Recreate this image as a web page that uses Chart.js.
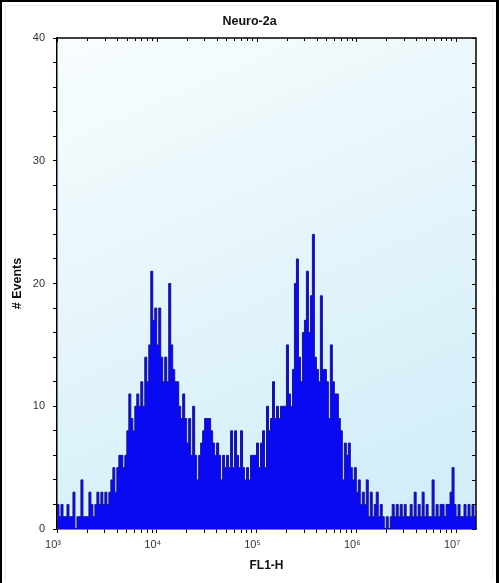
<!DOCTYPE html>
<html>
<head>
<meta charset="utf-8">
<script src="https://cdn.jsdelivr.net/npm/chart.js@4.4.1/dist/chart.umd.min.js"></script>
<style>
  html, body { margin: 0; padding: 0; background: #fff; }
  #wrap { width: 499px; height: 583px; position: relative; }
</style>
</head>
<body>
<div id="wrap"><canvas id="chart" width="499" height="583"></canvas></div>
<script>
  // labels
  const titleText = 'Neuro-2a';
  const xTitle = 'FL1-H';
  const yTitle = '# Events';

  // x axis: log10(FL1-H), one bin every 0.02 decade
  const logMin = 3, logMax = 7.2, binWidth = 0.02;
  const decades = [3, 4, 5, 6, 7];
  const decadeLabels = ['10³', '10⁴', '10⁵', '10⁶', '10⁷'];
  const yMax = 40, yStep = 2, yLabelEvery = 10;

  // events per bin
  const counts = [
    2,1,2,1,1,2,1,1,3,0,
    1,1,4,1,1,1,3,2,1,2,
    3,2,3,2,3,2,3,4,5,3,
    5,6,6,5,6,8,11,9,8,10,
    11,10,12,10,14,12,15,21,17,18,
    15,18,14,12,14,12,20,15,13,12,
    12,10,9,11,9,7,9,6,10,6,
    4,6,7,8,9,9,9,8,7,6,
    7,6,4,6,5,6,5,8,5,8,
    6,5,8,5,4,5,4,6,6,6,
    7,5,7,8,5,10,8,9,12,9,
    10,9,10,10,10,15,11,10,13,20,
    22,14,12,16,17,21,16,19,24,14,
    13,12,19,13,13,12,9,15,12,11,
    11,9,8,4,7,6,7,5,4,5,
    3,4,2,3,2,4,1,3,1,2,
    3,1,2,1,0,1,0,1,2,1,
    2,1,2,1,2,1,1,2,1,3,
    1,2,1,3,1,2,1,1,4,1,
    2,1,2,2,1,2,2,3,5,2,
    1,2,1,1,2,1,2,1,2,1
  ];

  const FONT = 'Liberation Sans, Arial, Helvetica, sans-serif';

  // bin left edges + closing point at the right edge
  const points = counts.map((c, i) => ({x: logMin + i * binWidth, y: c}));
  points.push({x: logMin + counts.length * binWidth, y: counts[counts.length - 1]});

  // log minor tick positions
  const logTicks = [];
  decades.forEach(d => {
    for (let k = 1; k <= 9; k++) {
      const v = d + Math.log10(k);
      if (v <= logMax + 1e-9) logTicks.push({value: v});
    }
  });

  const isInt = v => Math.abs(v - Math.round(v)) < 1e-6;

  const framePlugin = {
    id: 'frame',
    beforeDraw(chart) {
      const {ctx, width, height, chartArea: a} = chart;
      ctx.save();
      ctx.fillStyle = '#fff';
      ctx.fillRect(0, 0, width, height);
      // plot background
      const g = ctx.createLinearGradient(a.left, a.top, a.left + (a.right - a.left) * 0.5, a.bottom);
      g.addColorStop(0, '#f8fdfe');
      g.addColorStop(0.45, '#e8f6fb');
      g.addColorStop(1, '#d3eef9');
      ctx.fillStyle = g;
      ctx.fillRect(a.left, a.top, a.right - a.left, a.bottom - a.top);
      // outer border of the picture
      ctx.strokeStyle = '#ececec';
      ctx.lineWidth = 1;
      ctx.beginPath();
      ctx.moveTo(5.5, height - 3);
      ctx.lineTo(5.5, 5.5);
      ctx.lineTo(width - 6.5, 5.5);
      ctx.lineTo(width - 6.5, height - 3);
      ctx.stroke();
      ctx.fillStyle = '#000';
      ctx.fillRect(0, 0, width, 2);
      ctx.fillRect(0, 0, 2, height);
      ctx.fillRect(width - 3, 0, 3, height);
      ctx.restore();
    },
    afterDraw(chart) {
      const {ctx, chartArea: a, scales} = chart;
      ctx.save();
      ctx.strokeStyle = '#000';
      ctx.lineWidth = 1.5;
      ctx.beginPath();
      ctx.moveTo(a.left, a.top);
      ctx.lineTo(a.right, a.top);
      ctx.lineTo(a.right, a.bottom);
      ctx.stroke();
      ctx.lineWidth = 1;
      ctx.beginPath();
      scales.x.ticks.forEach(t => {
        const px = Math.round(scales.x.getPixelForValue(t.value)) + 0.5;
        ctx.moveTo(px, a.top);
        ctx.lineTo(px, a.top + (isInt(t.value) ? 4 : 3));
      });
      scales.y.ticks.forEach(t => {
        const py = Math.round(scales.y.getPixelForValue(t.value)) + 0.5;
        ctx.moveTo(a.right, py);
        ctx.lineTo(a.right - 4, py);
      });
      ctx.stroke();
      ctx.restore();
    }
  };

  new Chart(document.getElementById('chart'), {
    type: 'line',
    data: {
      datasets: [{
        label: 'Neuro-2a',
        data: points,
        stepped: true,
        fill: 'origin',
        backgroundColor: '#0a0af2',
        borderColor: '#16168c',
        borderWidth: 1,
        pointRadius: 0,
        tension: 0
      }]
    },
    options: {
      responsive: false,
      animation: false,
      events: [],
      layout: {padding: 0},
      plugins: {
        legend: {display: false},
        tooltip: {enabled: false},
        title: {
          display: true,
          text: titleText,
          color: '#111',
          font: {family: FONT, size: 12.5, weight: 'bold'},
          padding: {top: 14, bottom: 9}
        }
      },
      scales: {
        x: {
          type: 'linear',
          min: logMin,
          max: logMax,
          afterBuildTicks: s => { s.ticks = logTicks.map(t => ({value: t.value})); },
          afterFit: s => { s.height = 54; },
          ticks: {
            autoSkip: false,
            maxRotation: 0,
            padding: 5,
            labelOffset: -4,
            color: '#333',
            font: {family: FONT, size: 11},
            callback: v => isInt(v) ? decadeLabels[decades.indexOf(Math.round(v))] : ''
          },
          grid: {drawOnChartArea: false, drawTicks: true, tickLength: 4, color: '#000'},
          border: {display: true, color: '#000', width: 1.5},
          title: {
            display: true,
            text: xTitle,
            color: '#111',
            font: {family: FONT, size: 12, weight: 'bold'},
            padding: {top: 0, bottom: 10}
          }
        },
        y: {
          min: 0,
          max: yMax,
          afterFit: s => { s.width = 57; },
          ticks: {
            stepSize: yStep,
            autoSkip: false,
            padding: 8,
            color: '#333',
            font: {family: FONT, size: 11},
            callback: v => v % yLabelEvery === 0 ? v : ''
          },
          grid: {drawOnChartArea: false, drawTicks: true, tickLength: 4, color: '#000'},
          border: {display: true, color: '#000', width: 1.5},
          title: {
            display: true,
            text: yTitle,
            color: '#111',
            font: {family: FONT, size: 12.5, weight: 'bold'},
            padding: {top: 10, bottom: 0}
          }
        },
        // empty strip on the right so the plot ends where the picture's does
        yRight: {
          position: 'right',
          display: true,
          afterFit: s => { s.width = 23; },
          ticks: {display: false},
          grid: {display: false},
          border: {display: false}
        }
      }
    },
    plugins: [framePlugin]
  });
</script>
</body>
</html>
